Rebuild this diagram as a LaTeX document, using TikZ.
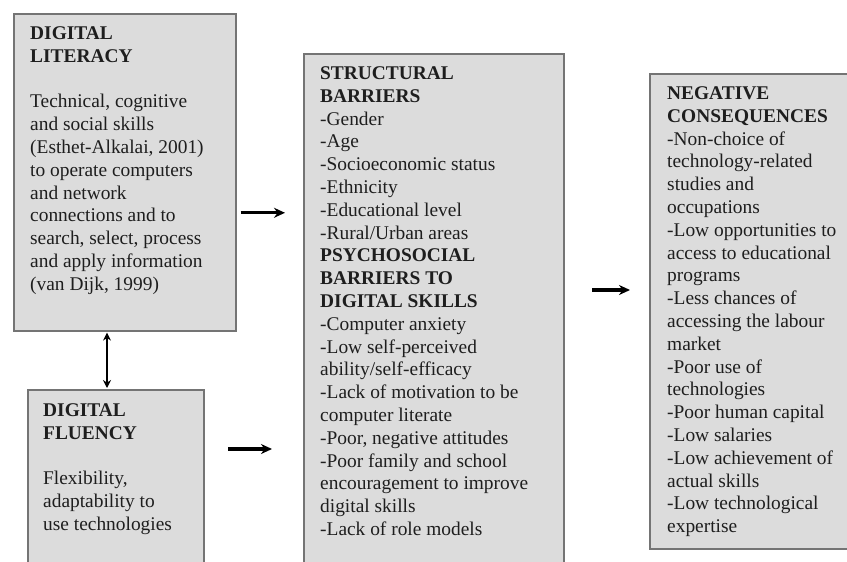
\documentclass[tikz,border=0pt]{standalone}
\usepackage{fontspec}
\setmainfont{Liberation Serif}
\usepackage{tikz}
\usetikzlibrary{arrows.meta, calc, positioning}
\definecolor{boxfill}{HTML}{DCDCDC}
\definecolor{boxline}{HTML}{747474}
\definecolor{ink}{HTML}{1E1E1E}

\begin{document}
\begin{tikzpicture}[
    x=1pt, y=-1pt,
    box/.style={draw=boxline, fill=boxfill, line width=1.6pt, anchor=north west, inner sep=0pt},
    txt/.style={anchor=north west, align=left, inner sep=0pt, text=ink,
        font=\fontsize{19.4}{22.8}\selectfont},
    arr/.style={-{Stealth[length=11pt,width=10pt]}, line width=3.2pt},
    darr/.style={{Stealth[length=8pt,width=8pt]}-{Stealth[length=8pt,width=8pt]}, line width=1.6pt}
]
\useasboundingbox (0,0) rectangle (847,562);

% left column
\node[box, minimum width=222pt, minimum height=317pt] (lit) at (13,13) {};
\node[box, minimum width=176pt, minimum height=200pt] (flu) at (27,389) {};

% middle and right
\node[box, minimum width=260pt, minimum height=530pt] (mid) at (303,53) {};
\node[box, minimum width=230pt, minimum height=475pt] (neg) at (649,73) {};

% texts
\node[txt] (littxt) at (30,26.4) {\textbf{DIGITAL}\\\textbf{LITERACY}\\[22.8pt]
Technical, cognitive\\and social skills\\(Esthet-Alkalai, 2001)\\to operate computers\\
and network\\connections and to\\search, select, process\\and apply information\\(van Dijk, 1999)};

\node[txt] (flutxt) at (43,403.4) {\textbf{DIGITAL}\\\textbf{FLUENCY}\\[22.8pt]
Flexibility,\\adaptability to\\use technologies};

\node[txt] (midtxt) at (320,66.4) {\textbf{STRUCTURAL}\\\textbf{BARRIERS}\\
-Gender\\-Age\\-Socioeconomic status\\-Ethnicity\\-Educational level\\-Rural/Urban areas\\
\textbf{PSYCHOSOCIAL}\\\textbf{BARRIERS TO}\\\textbf{DIGITAL SKILLS}\\
-Computer anxiety\\-Low self-perceived\\ability/self-efficacy\\-Lack of motivation to be\\
computer literate\\-Poor, negative attitudes\\-Poor family and school\\
encouragement to improve\\digital skills\\-Lack of role models};

\node[txt] (negtxt) at (667,86.4) {\textbf{NEGATIVE}\\\textbf{CONSEQUENCES}\\
-Non-choice of\\technology-related\\studies and\\occupations\\-Low opportunities to\\
access to educational\\programs\\-Less chances of\\accessing the labour\\market\\
-Poor use of\\technologies\\-Poor human capital\\-Low salaries\\-Low achievement of\\
actual skills\\-Low technological\\expertise};

% arrows
\coordinate (link) at (107,0);
\coordinate (fluout) at (228,449);
\coordinate (midout) at (592,290);

\draw[darr, shorten <=1pt, shorten >=1pt] (lit.south -| link) -- (flu.north -| link);
\draw[arr, shorten <=4pt, shorten >=18pt] ([yshift=-40.5pt]lit.east) -- ([yshift=-40.5pt]lit.east -| mid.west);
\draw[arr, shorten >=31pt] (fluout) -- (fluout -| mid.west);
\draw[arr, shorten >=19pt] (midout) -- (midout -| neg.west);
\end{tikzpicture}
\end{document}
